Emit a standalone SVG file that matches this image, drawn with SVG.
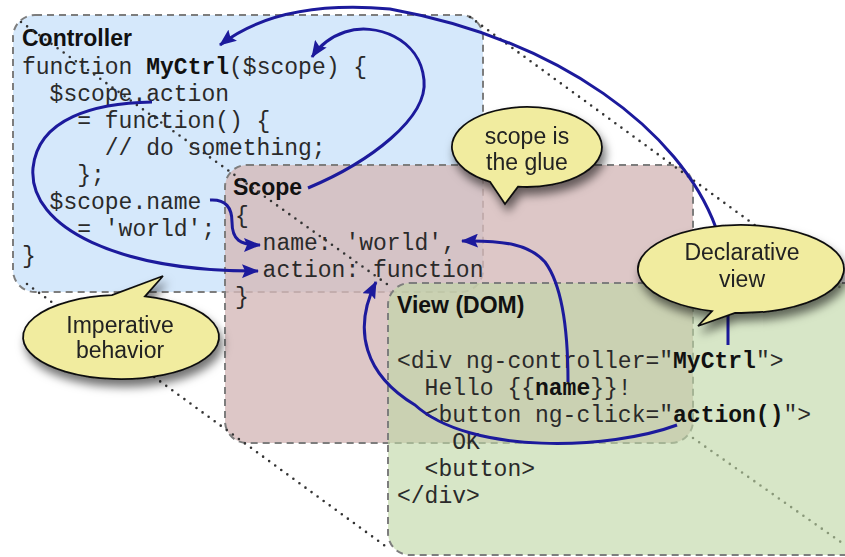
<svg xmlns="http://www.w3.org/2000/svg" width="845" height="557" viewBox="0 0 845 557">
  <defs>
    <style>
      .box { stroke: #7d7d7d; stroke-width: 2; stroke-dasharray: 7 5; }
      .title { font-family: 'Liberation Sans', Arial, sans-serif; font-weight: bold; font-size: 23px; fill: #111; }
      .code { font-family: 'Liberation Mono', 'Courier New', monospace; font-size: 23px; fill: #2a2a2a; }
      .code .b { font-weight: bold; fill: #111; }
      .guide { fill: none; stroke: #333; stroke-width: 2.6; stroke-linecap: round; stroke-dasharray: 0 7.5; }
      .link { fill: none; stroke: #1c1a9c; stroke-width: 3; }
      .bubble { fill: #f1ec9f; stroke: #111; stroke-width: 1.8; }
      .note { font-family: 'Liberation Sans', Arial, sans-serif; font-size: 23px; fill: #222; text-anchor: middle; }
    </style>
    <marker id="arrow" markerUnits="userSpaceOnUse" markerWidth="17" markerHeight="14" viewBox="0 0 17 14" refX="16" refY="7" orient="auto">
      <path d="M0,0 L17,7 L0,14 L3,7 Z" fill="#1c1a9c"/>
    </marker>
    <filter id="shadow" x="-20%" y="-30%" width="150%" height="180%">
      <feDropShadow dx="3" dy="7" stdDeviation="5" flood-color="#000" flood-opacity="0.55"/>
    </filter>
  </defs>

  <rect width="845" height="557" fill="#ffffff"/>

  <!-- Controller layer -->
  <g id="controller">
    <rect class="box" x="13" y="15" width="470" height="277" rx="22" fill="#d5e8fb"/>
    <text class="title" x="22" y="46">Controller</text>
    <text class="code" x="22" y="74">function <tspan class="b">MyCtrl</tspan>($scope) {</text>
    <text class="code" x="49.6" y="101">$scope.action</text>
    <text class="code" x="77.2" y="128">= function() {</text>
    <text class="code" x="104.8" y="155">// do something;</text>
    <text class="code" x="77.2" y="182">};</text>
    <text class="code" x="49.6" y="209">$scope.name</text>
    <text class="code" x="77.2" y="236">= 'world';</text>
    <text class="code" x="22" y="263">}</text>
  </g>

  <!-- Scope layer -->
  <g id="scope">
    <rect class="box" x="225" y="165" width="468" height="278" rx="22" fill="rgb(212,185,185)" fill-opacity="0.8"/>
    <text class="title" x="233" y="195">Scope</text>
    <text class="code" x="235" y="223">{</text>
    <text class="code" x="262.6" y="250">name: 'world',</text>
    <text class="code" x="262.6" y="277">action: function</text>
    <text class="code" x="235" y="304">}</text>
  </g>

  <!-- perspective guides joining the layer corners -->
  <g id="guides">
    <line class="guide" x1="21" y1="22" x2="391" y2="287"/>
    <line class="guide" x1="470" y1="17" x2="845" y2="291"/>
    <line class="guide" x1="27" y1="284" x2="388" y2="548"/>
    <line class="guide" x1="693" y1="438" x2="845" y2="545"/>
  </g>

  <!-- View layer -->
  <g id="view">
    <rect class="box" x="388" y="283" width="480" height="272" rx="22" fill="rgb(190,214,165)" fill-opacity="0.62"/>
    <text class="title" x="397" y="313">View (DOM)</text>
    <text class="code" x="397" y="368">&lt;div ng-controller="<tspan class="b">MyCtrl</tspan>"&gt;</text>
    <text class="code" x="424.6" y="395">Hello {{<tspan class="b">name</tspan>}}!</text>
    <text class="code" x="424.6" y="422">&lt;button ng-click="<tspan class="b">action()</tspan>"&gt;</text>
    <text class="code" x="452.2" y="449">OK</text>
    <text class="code" x="424.6" y="476">&lt;button&gt;</text>
    <text class="code" x="397" y="503">&lt;/div&gt;</text>
  </g>

  <!-- bindings -->
  <g id="connectors">
    <path class="link" marker-end="url(#arrow)" d="M152,102 C95,103 38,118 33,168 C28,228 120,272 258,271"/>
    <path class="link" marker-end="url(#arrow)" d="M210,200 C226,199 232,208 232,222 C232,240 240,245 260,245"/>
    <path class="link" marker-end="url(#arrow)" d="M308,188 C370,162 428,118 424,80 C420,38 375,22 345,32 C330,37 320,45 312,57"/>
    <path class="link" marker-end="url(#arrow)" d="M728,345 L728,305 C726,275 722,245 716,228 C680,130 560,40 390,9 C310,2 255,18 220,45"/>
    <path class="link" marker-end="url(#arrow)" d="M568,382 C568,330 562,285 545,262 C530,245 505,240 462,241"/>
    <path class="link" marker-end="url(#arrow)" d="M677,425 C610,450 470,455 415,405 C365,375 352,330 376,282"/>
  </g>

  <!-- callouts -->
  <g id="note-glue" filter="url(#shadow)">
    <path class="bubble" d="M490,181.8 A75,40 0 1 1 518,186.7 L505,204 Z"/>
    <text class="note" x="527" y="144">scope is</text>
    <text class="note" x="527" y="170">the glue</text>
  </g>
  <g id="note-declarative" filter="url(#shadow)">
    <path class="bubble" d="M712,311.2 A103,44 0 1 1 735,312.9 L698,326 Z"/>
    <text class="note" x="742" y="260">Declarative</text>
    <text class="note" x="742" y="287">view</text>
  </g>
  <g id="note-imperative" filter="url(#shadow)">
    <path class="bubble" d="M145,296.3 A98,42 0 1 1 112,295.2 L163,276 Z"/>
    <text class="note" x="120" y="333">Imperative</text>
    <text class="note" x="120" y="358">behavior</text>
  </g>
</svg>
